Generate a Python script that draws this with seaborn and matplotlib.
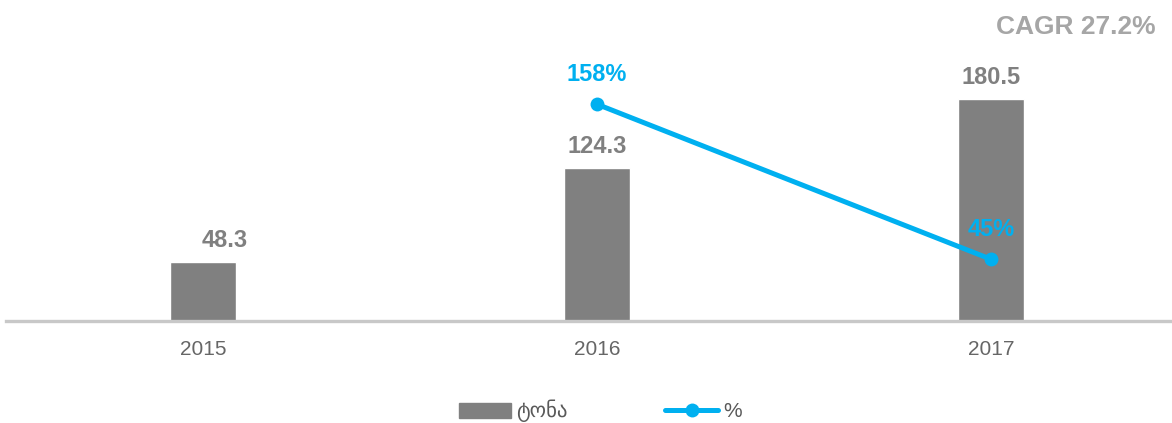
import matplotlib
matplotlib.use('Agg')
import matplotlib.pyplot as plt
import pandas as pd
import seaborn as sns
from matplotlib.patches import Patch
from matplotlib.lines import Line2D

# values
years = ['2015', '2016', '2017']
tonnes = [48.3, 124.3, 180.5]
growth_years = ['2016', '2017']
growth_pct = [158, 45]
cagr_text = 'CAGR 27.2%'
legend_labels = ['ტონა', '%']

bar_color = '#808080'
line_color = '#00b0f0'

sns.set_theme(style='white')
plt.rcParams['font.family'] = ['Liberation Sans', 'DejaVu Sans']

fig = plt.figure(figsize=(11.72, 4.23), dpi=100)
ax = fig.add_axes([0.0051, 0.2411, 1.0085, 0.6643])

bars = pd.DataFrame({'year': years, 'tonnes': tonnes})
sns.barplot(data=bars, x='year', y='tonnes', color=bar_color, width=0.168,
            saturation=1, ax=ax)
ax.set_xlim(-0.5, 2.5)
ax.set_ylim(0, 228.5)

# value labels above bars
label_dx = [22, 0, 0]
for i, v in enumerate(tonnes):
    ax.annotate(f'{v:.1f}', (i, v), xytext=(label_dx[i] * 0.72, 7),
                textcoords='offset points', ha='center', va='bottom',
                fontsize=17, fontweight='bold', color=bar_color)

ax2 = ax.twinx()
line = pd.DataFrame({'pos': [years.index(y) for y in growth_years], 'pct': growth_pct})
sns.lineplot(data=line, x='pos', y='pct', color=line_color, linewidth=3.6,
             marker='o', markersize=10, markeredgewidth=0, ax=ax2)
ax2.set_ylim(0, 204.8)
for p, v in zip(line['pos'], growth_pct):
    ax2.annotate(f'{v}%', (p, v), xytext=(0, 13), textcoords='offset points',
                 ha='center', va='bottom', fontsize=17, fontweight='bold',
                 color=line_color)

for a in (ax, ax2):
    a.set_xlabel('')
    a.set_ylabel('')
    a.set_yticks([])
    for s in a.spines.values():
        s.set_visible(False)
ax.spines['bottom'].set_visible(True)
ax.spines['bottom'].set_color('#c8c8c8')
ax.spines['bottom'].set_linewidth(2.4)
ax.tick_params(axis='x', length=0, pad=14, labelsize=15, labelcolor='#666666')
ax.patch.set_alpha(0)

fig.text(0.986, 0.935, cagr_text, ha='right', va='center', fontsize=19,
         fontweight='bold', color='#a6a6a6')

handles = [Patch(color=bar_color),
           Line2D([], [], color=line_color, linewidth=3.6, marker='o',
                  markersize=10, markeredgewidth=0)]
fig.legend(handles, legend_labels, loc='center', bbox_to_anchor=(0.512, 0.028),
           ncol=2, frameon=False, fontsize=15, handlelength=2.5,
           handleheight=0.75, handletextpad=0.25, columnspacing=4.7,
           labelcolor='#595959')

fig.savefig('out.png', dpi=100)
